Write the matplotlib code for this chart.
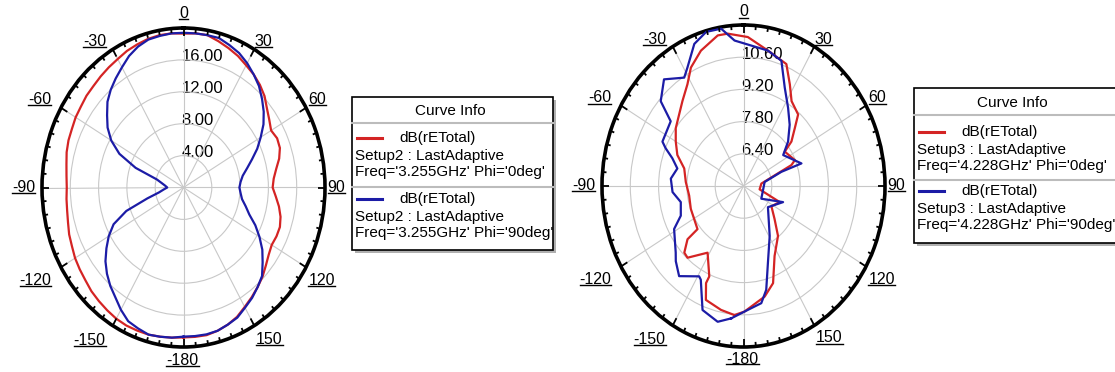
import numpy as np
import matplotlib
matplotlib.use('Agg')
import matplotlib.pyplot as plt
import matplotlib.transforms as mtransforms
from matplotlib.collections import LineCollection
from matplotlib.lines import Line2D
from matplotlib.patches import Rectangle

plt.rcParams['font.family'] = ['Liberation Sans', 'DejaVu Sans']

# 3.255 GHz pattern, dB(rETotal) every 5 deg
ang_a = np.arange(-180, 181, 5)
red_a = [18.8, 18.9, 19.0, 19.1, 19.1, 19.1, 19.0, 18.8, 18.6, 18.4,
         18.1, 17.9, 17.7, 17.4, 17.2, 16.9, 16.7, 16.6, 16.5,
         16.6, 16.8, 17.1, 17.3, 17.4, 17.6, 17.7, 17.9, 18.0, 18.2,
         18.4, 18.6, 18.9, 19.1, 19.3, 19.4, 19.4, 19.3,
         19.4, 19.4, 19.0, 18.6, 18.2, 17.7, 17.3, 16.8, 16.2, 15.4,
         14.8, 14.3, 14.6, 14.5, 14.0, 13.3, 12.8, 12.6,
         13.1, 13.7, 14.2, 14.5, 14.5, 14.4, 14.7, 15.2, 15.8, 16.3,
         16.8, 17.3, 17.9, 18.3, 18.6, 18.8, 18.8, 18.8]
blue_a = [18.7, 18.9, 19.0, 19.1, 18.8, 18.5, 17.7, 16.8, 16.1, 15.3,
          14.4, 13.3, 12.2, 10.9, 8.6, 5.3, 3.5, 2.8, 2.3,
          2.6, 3.1, 3.9, 7.2, 10.0, 11.8, 13.1, 14.1, 15.2, 16.0,
          16.7, 17.4, 18.2, 18.8, 19.2, 19.3, 19.4, 19.4,
          19.4, 19.4, 19.4, 19.0, 18.6, 18.0, 17.3, 16.6, 15.7, 14.8,
          13.8, 12.6, 11.5, 10.3, 9.3, 8.5, 8.1, 7.9,
          8.1, 8.4, 9.1, 9.9, 11.2, 12.4, 13.6, 14.6, 15.7, 16.3,
          16.9, 17.4, 18.0, 18.3, 18.6, 18.7, 18.7, 18.7]
rings_a = [4.0, 8.0, 12.0, 16.0]

# 4.228 GHz pattern
red_b_ang = [-175.4, -168.3, -159.4, -156.3, -156.7, -148.5, -138.4, -134.7, -129.9, -129.5,
             -110.9, -98.7, -86.5, -75.4, -67.6, -60.0, -53.1, -39.3, -32.1, -26.8,
             -19.7, -11.0, -6.7, 1.9, 11.6, 21.8, 27.4, 32.8, 41.0, 45.2,
             50.8, 53.8, 66.1, 69.0, 83.2, 100.4, 111.3, 122.6, 133.0, 141.8,
             153.2, 160.9, 167.7, 179.5]
red_b = [10.63, 10.50, 10.29, 9.61, 9.28, 8.40, 9.17, 9.12, 8.61, 7.95,
         7.79, 7.72, 7.86, 8.03, 8.54, 8.87, 9.19, 9.77, 10.22, 10.77,
         11.25, 11.67, 11.67, 11.48, 11.01, 10.71, 9.98, 9.39, 9.12, 8.58,
         8.06, 7.53, 7.78, 7.54, 5.89, 5.81, 6.92, 6.64, 7.10, 7.76,
         8.41, 9.47, 9.92, 10.46]
blue_b_ang = [-173.9, -167.8, -159.4, -152.6, -150.8, -140.9, -134.3, -130.8, -118.6, -112.6,
              -102.7, -94.3, -84.9, -76.9, -71.1, -66.9, -64.3, -52.0, -48.0, -40.3,
              -31.9, -28.3, -21.5, -15.4, -9.2, -4.0, 11.6, 19.0, 25.5, 33.0,
              40.6, 48.8, 55.6, 71.1, 71.8, 80.5, 122.1, 109.7, 127.3, 149.2,
              160.1, 166.0, 170.2, 177.7]
blue_b = [10.79, 11.04, 10.76, 9.59, 9.50, 10.05, 9.68, 9.43, 8.91, 8.36,
          8.18, 8.52, 8.61, 8.36, 8.72, 9.19, 9.45, 9.57, 10.51, 11.08,
          10.55, 10.85, 11.64, 11.95, 11.93, 11.34, 11.01, 10.76, 9.74, 9.05,
          8.51, 7.93, 7.38, 8.03, 6.97, 6.06, 6.04, 7.08, 6.52, 7.53,
          8.55, 9.65, 10.17, 10.39]
rings_b = [6.40, 7.80, 9.20, 10.60]

# angle labels and their pixel offsets from the plot centre
angle_labels = [0, 30, 60, 90, 120, 150, -180, -150, -120, -90, -60, -30]
label_off = {0: (0, 174), 30: (80, 146), 60: (134, 88), 90: (153, 0),
             120: (138, -93), 150: (86, -152), -180: (-1, -173), -150: (-94, -153),
             -120: (-148, -93), -90: (-160, 0), -60: (-144, 88), -30: (-89, 146)}

RED = '#d42424'
BLUE = '#1c1ca6'
W, H = 1115, 372

fig = plt.figure(figsize=(W / 100, H / 100), dpi=100)
fig.patch.set_facecolor('white')
underlined = []


def fx(x):
    return x / W


def fy(y):
    return 1 - y / H


def polar_panel(box, rmin, rmax, rings):
    x0, y0, x1, y1 = box
    ax = fig.add_axes([fx(x0), fy(y1), (x1 - x0) / W, (y1 - y0) / H], projection='polar')
    ax.set_aspect('auto')
    ax.set_theta_zero_location('N')
    ax.set_theta_direction(-1)
    ax.set_ylim(rmin, rmax)
    ax.set_yticks(rings)
    ax.set_yticklabels([])
    ax.set_xticks(np.deg2rad(np.arange(0, 360, 30)))
    ax.set_xticklabels([])
    ax.tick_params(length=0)
    ax.grid(True, color='#c8c8c8', lw=0.8)
    ax.spines['polar'].set_linewidth(2.6)

    # inward tick marks on the rim, longer every 30 deg
    segs = []
    for d in range(0, 360, 5):
        t = np.deg2rad(d)
        ln = 0.026 if d % 30 == 0 else 0.014
        segs.append([(0.5 + 0.5 * np.sin(t), 0.5 + 0.5 * np.cos(t)),
                     (0.5 + (0.5 - ln) * np.sin(t), 0.5 + (0.5 - ln) * np.cos(t))])
    ax.add_collection(LineCollection(segs, colors='black', linewidths=1.3,
                                     transform=ax.transAxes, zorder=5))

    # radial value labels just right of the 0 deg spoke
    trans = mtransforms.offset_copy(ax.transData, fig=fig, x=-2, y=3, units='dots')
    for r in rings:
        ax.text(0, r, f'{r:.2f}', ha='left', va='center', fontsize=12,
                transform=trans, zorder=1.5)

    # angle labels around the rim
    for a in angle_labels:
        dx, dy = label_off[a]
        trans = mtransforms.offset_copy(ax.transAxes, fig=fig, x=dx, y=dy, units='dots')
        txt = ax.text(0.5, 0.5, str(a), ha='center', va='center', fontsize=11.5,
                      transform=trans, clip_on=False)
        underlined.append(txt)
    return ax


def closed(ang, vals):
    t = np.deg2rad(np.append(ang, ang[0]))
    return np.unwrap(t), np.append(vals, vals[0])


ax1 = polar_panel((42, 28, 325, 347), 0, 20, rings_a)
ax1.plot(np.deg2rad(ang_a), red_a, color=RED, lw=1.6, zorder=3)
ax1.plot(np.deg2rad(ang_a), blue_a, color=BLUE, lw=1.6, zorder=3)

ax2 = polar_panel((602, 25, 885, 347), 5.0, 12.0, rings_b)
t, r = closed(red_b_ang, red_b)
ax2.plot(t, r, color=RED, lw=1.6, zorder=3)
t, r = closed(blue_b_ang, blue_b)
ax2.plot(t, r, color=BLUE, lw=1.6, zorder=4)


def curve_info(x0, x1, top, bottom, head_y, seps, entries):
    # shadow, frame, header and separators
    fig.add_artist(Rectangle((fx(x0 + 3), fy(bottom + 3)), (x1 - x0) / W, (bottom - top) / H,
                             transform=fig.transFigure, facecolor='#b0b0b0', edgecolor='none'))
    fig.add_artist(Rectangle((fx(x0), fy(bottom)), (x1 - x0) / W, (bottom - top) / H,
                             transform=fig.transFigure, facecolor='white',
                             edgecolor='black', lw=1.2))
    fig.text(fx((x0 + min(x1, W)) / 2 - 2), fy(head_y), 'Curve Info', ha='center', va='center',
             fontsize=11)
    for s in seps:
        fig.add_artist(Line2D([fx(x0), fx(x1)], [fy(s), fy(s)], color='#bcbcbc', lw=1.5))
    for color, y, setup, freq in entries:
        fig.add_artist(Line2D([fx(x0 + 5), fx(x0 + 30)], [fy(y), fy(y)], color=color, lw=2.2))
        fig.text(fx(x0 + 47), fy(y), 'dB(rETotal)', va='center', fontsize=11)
        fig.text(fx(x0 + 3), fy(y + 18), setup, va='center', fontsize=11)
        fig.text(fx(x0 + 3), fy(y + 34), freq, va='center', fontsize=11)


curve_info(352, 553, 97, 250, 111, [123, 187],
           [(RED, 138, 'Setup2 : LastAdaptive', "Freq='3.255GHz' Phi='0deg'"),
            (BLUE, 199, 'Setup2 : LastAdaptive', "Freq='3.255GHz' Phi='90deg'")])
curve_info(914, 1135, 88, 243, 103, [115, 180],
           [(RED, 132, 'Setup3 : LastAdaptive', "Freq='4.228GHz' Phi='0deg'"),
            (BLUE, 191, 'Setup3 : LastAdaptive', "Freq='4.228GHz' Phi='90deg'")])

# underline the angle labels
fig.canvas.draw()
inv = fig.transFigure.inverted()
for txt in underlined:
    bb = txt.get_window_extent()
    (ax0, ay), (bx1, _) = inv.transform([(bb.x0, bb.y0 + 2), (bb.x1, bb.y0 + 2)])
    fig.add_artist(Line2D([ax0, bx1], [ay, ay], color='black', lw=1.0))

fig.savefig('out.png', dpi=100)
